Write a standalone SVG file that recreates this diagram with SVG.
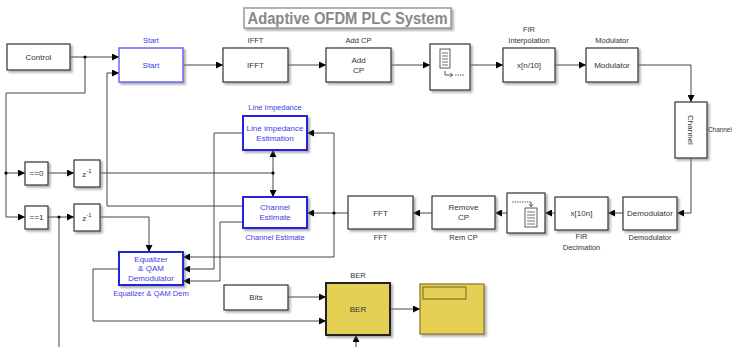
<svg xmlns="http://www.w3.org/2000/svg" width="733" height="347" viewBox="0 0 733 347">
<defs>
<filter id="sh" x="-20%" y="-20%" width="140%" height="140%">
<feDropShadow dx="2" dy="2" stdDeviation="1" flood-color="#777" flood-opacity="0.6"/>
</filter>
<marker id="ar" viewBox="0 0 8 8" refX="8" refY="4" markerWidth="7" markerHeight="7" markerUnits="userSpaceOnUse" orient="auto">
<path d="M0,0 L8,4 L0,8 z" fill="#000"/>
</marker>
</defs>
<style>
text{font-family:"Liberation Sans",Arial,sans-serif;text-anchor:middle;}
.blk{fill:#fff;stroke:#333;stroke-width:1.2;filter:url(#sh);}
.bblk{fill:#fff;stroke:#2020e0;stroke-width:2;filter:url(#sh);}
.sblk{fill:#fff;stroke:#6a6af0;stroke-width:1.5;filter:url(#sh);}
.t{font-size:8px;fill:#333;}
.bt{font-size:8px;fill:#4040e6;}
.lb{font-size:7.5px;fill:#333;}
.blb{font-size:7.5px;fill:#4040e6;}
.w{fill:none;stroke:#444;stroke-width:1;}
.wa{fill:none;stroke:#444;stroke-width:1;marker-end:url(#ar);}
.dot{fill:#000;}
.ic{fill:#fff;stroke:#333;stroke-width:0.8;}
</style>

<g id="title">
<rect x="244" y="8" width="207" height="20" fill="#fff" stroke="#999" stroke-width="1.5" filter="url(#sh)"/>
<text x="347.5" y="24" font-size="16.5" font-weight="bold" fill="#888" textLength="200" lengthAdjust="spacingAndGlyphs">Adaptive OFDM PLC System</text>
</g>

<g id="connectors">
<path class="wa" d="M70,57 H119"/>
<path class="w" d="M85,57 V93 H6 V217"/>
<path class="wa" d="M6,217 H25"/>
<path class="wa" d="M6,173 H25"/>
<path class="wa" d="M48,173 H74"/>
<path class="wa" d="M48,217 H74"/>
<path class="w" d="M59,217 V347"/>
<path class="w" d="M100,173 H273"/>
<path class="wa" d="M273,173 V150"/>
<path class="wa" d="M273,173 V197"/>
<path class="wa" d="M100,217 H149 V252"/>
<path class="wa" d="M183,65 H223"/>
<path class="wa" d="M288,65 H326"/>
<path class="wa" d="M391,65 H430"/>
<path class="wa" d="M470,65 H503"/>
<path class="wa" d="M555,65 H586"/>
<path class="wa" d="M638,65 H691 V102"/>
<path class="wa" d="M691,158 V213 H677"/>
<path class="wa" d="M623,213 H608"/>
<path class="wa" d="M555,213 H545"/>
<path class="wa" d="M507,213 H495"/>
<path class="wa" d="M432,213 H413"/>
<path class="wa" d="M348,213 H307"/>
<path class="wa" d="M334,213 V133 H307"/>
<path class="wa" d="M334,213 V257 H183"/>
<path class="wa" d="M243,133 H214 V269 H183"/>
<path class="wa" d="M243,206 H107 V73 H119"/>
<path class="wa" d="M243,222 H220 V281 H183"/>
<path class="wa" d="M119,269 H93 V321 H326"/>
<path class="wa" d="M288,297 H326"/>
<path class="wa" d="M390,309 H420"/>
<path class="wa" d="M356,347 V335"/>
<circle class="dot" cx="85" cy="57" r="1.6"/>
<circle class="dot" cx="6" cy="173" r="1.6"/>
<circle class="dot" cx="59" cy="217" r="1.6"/>
<circle class="dot" cx="273" cy="173" r="1.6"/>
<circle class="dot" cx="334" cy="213" r="1.6"/>
</g>

<g id="control">
<rect class="blk" x="7" y="44" width="63" height="26"/>
<text class="t" x="38.5" y="60">Control</text>
</g>

<g id="start">
<rect class="sblk" x="119" y="48" width="64" height="34"/>
<text class="blb" x="151" y="43" fill="#5050e8">Start</text>
<text class="bt" x="151" y="68">Start</text>
</g>

<g id="ifft">
<rect class="blk" x="223" y="48" width="65" height="34"/>
<text class="lb" x="255.5" y="43">IFFT</text>
<text class="t" x="255.5" y="68">IFFT</text>
</g>

<g id="addcp">
<rect class="blk" x="326" y="48" width="65" height="34"/>
<text class="lb" x="358.5" y="43">Add CP</text>
<text class="t" x="358.5" y="63">Add</text>
<text class="t" x="358.5" y="73">CP</text>
</g>

<g id="buffer">
<rect class="blk" x="430" y="44" width="40" height="46"/>
<rect class="ic" x="440" y="49" width="10" height="19"/>
<path d="M442,53 H448 M442,56 H448 M442,59 H448 M442,62 H448 M442,65 H448" stroke="#333" stroke-width="0.7"/>
<path d="M445,71 V75 H452" fill="none" stroke="#333" stroke-width="0.8"/>
<path d="M450,73 L453,75 L450,77" fill="none" stroke="#333" stroke-width="0.7"/>
<path d="M455,75 H465" stroke="#333" stroke-width="0.8" stroke-dasharray="1.5,1"/>
</g>

<g id="firinterp">
<rect class="blk" x="503" y="48" width="52" height="34"/>
<text class="lb" x="529" y="32">FIR</text>
<text class="lb" x="529" y="43">Interpolation</text>
<text class="t" x="529" y="68">x[n/10]</text>
</g>

<g id="modulator">
<rect class="blk" x="586" y="48" width="52" height="34"/>
<text class="lb" x="612" y="43">Modulator</text>
<text class="t" x="612" y="68">Modulator</text>
</g>

<g id="channel">
<rect class="blk" x="675" y="102" width="32" height="56"/>
<text class="t" transform="translate(688,130) rotate(90)">Channel</text>
<text x="708" y="132" font-size="6.4" fill="#333" style="text-anchor:start">Channel</text>
</g>

<g id="demodulator">
<rect class="blk" x="623" y="197" width="54" height="33"/>
<text class="t" x="650" y="216">Demodulator</text>
<text class="lb" x="650" y="240">Demodulator</text>
</g>

<g id="firdec">
<rect class="blk" x="555" y="197" width="53" height="33"/>
<text class="t" x="581.5" y="216">x[10n]</text>
<text class="lb" x="581.5" y="239">FIR</text>
<text class="lb" x="581.5" y="250">Decimation</text>
</g>

<g id="unbuffer">
<rect class="blk" x="507" y="193" width="38" height="40"/>
<path d="M512,202 H531" fill="none" stroke="#333" stroke-width="0.8" stroke-dasharray="1.5,1"/>
<path d="M531,202 V206" fill="none" stroke="#333" stroke-width="0.8"/>
<path d="M529,204 L531,207 L533,204" fill="none" stroke="#333" stroke-width="0.7"/>
<rect class="ic" x="525" y="208" width="12" height="19"/>
<path d="M527,212 H535 M527,215 H535 M527,218 H535 M527,221 H535 M527,224 H535" stroke="#333" stroke-width="0.7"/>
</g>

<g id="removecp">
<rect class="blk" x="432" y="196" width="63" height="33"/>
<text class="t" x="463.5" y="210">Remove</text>
<text class="t" x="463.5" y="220">CP</text>
<text class="lb" x="463.5" y="240">Rem CP</text>
</g>

<g id="fft">
<rect class="blk" x="348" y="196" width="65" height="33"/>
<text class="t" x="380.5" y="216">FFT</text>
<text class="lb" x="380.5" y="240">FFT</text>
</g>

<g id="lineimpedance">
<rect class="bblk" x="243" y="116" width="64" height="34"/>
<text class="blb" x="275" y="110">Line Impedance</text>
<text class="bt" x="275" y="131">Line Impedance</text>
<text class="bt" x="275" y="141">Estimation</text>
</g>

<g id="channelestimate">
<rect class="bblk" x="243" y="197" width="64" height="31"/>
<text class="bt" x="275" y="210">Channel</text>
<text class="bt" x="275" y="220">Estimate</text>
<text class="blb" x="275" y="240">Channel Estimate</text>
</g>

<g id="equalizer">
<rect class="bblk" x="119" y="252" width="64" height="33"/>
<text class="bt" x="151" y="262">Equalizer</text>
<text class="bt" x="151" y="271">&amp; QAM</text>
<text class="bt" x="151" y="281">Demodulator</text>
<text class="blb" x="151" y="296">Equalizer &amp; QAM Dem</text>
</g>

<g id="eq0">
<rect class="blk" x="25" y="162" width="23" height="23"/>
<text class="t" x="36.5" y="176">==0</text>
</g>

<g id="eq1">
<rect class="blk" x="25" y="206" width="23" height="23"/>
<text class="t" x="36.5" y="220">==1</text>
</g>

<g id="delay0">
<rect class="blk" x="74" y="160" width="26" height="27"/>
<text class="t" x="87" y="177" font-size="9">z<tspan dy="-4" font-size="6">-1</tspan></text>
</g>

<g id="delay1">
<rect class="blk" x="74" y="204" width="26" height="27"/>
<text class="t" x="87" y="221" font-size="9">z<tspan dy="-4" font-size="6">-1</tspan></text>
</g>

<g id="bits">
<rect class="blk" x="224" y="285" width="64" height="25"/>
<text class="t" x="256" y="300">Bits</text>
</g>

<g id="ber">
<rect x="326" y="283" width="64" height="52" fill="#e6cf55" stroke="#222" stroke-width="2" filter="url(#sh)"/>
<text class="lb" x="358" y="278">BER</text>
<text class="t" x="358" y="312" fill="#5a4a10">BER</text>
</g>

<g id="display">
<rect x="420" y="284" width="64" height="50" fill="#e6cf55" stroke="#8a7520" stroke-width="1.2" filter="url(#sh)"/>
<rect x="423" y="287" width="43" height="12" fill="#e6cf55" stroke="#6a5a18" stroke-width="0.9"/>
</g>
</svg>
